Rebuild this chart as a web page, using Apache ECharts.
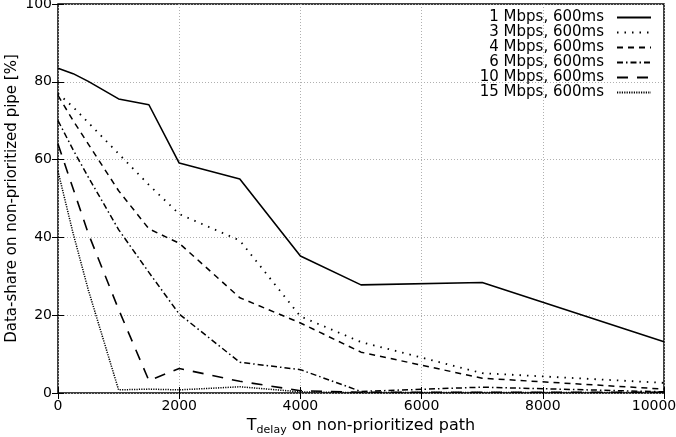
<!DOCTYPE html>
<html>
<head>
<meta charset="utf-8">
<script src="https://cdn.jsdelivr.net/npm/echarts@6/dist/echarts.min.js"></script>
<style>
  html, body { margin: 0; padding: 0; background: #fff; }
  #chart { width: 676px; height: 437px; }
</style>
</head>
<body>
<div id="chart"></div>
<script>
// delay values (x axis)
const delays = [0, 250, 500, 1000, 1500, 2000, 3000, 4000, 5000, 7000, 10000];

// data share [%] per bandwidth
const share1 = [83.5, 82.1, 80.1, 75.6, 74.1, 59.1, 55.0, 35.2, 27.8, 28.4, 13.2];
const share3 = [77.0, 73.5, 69.5, 61.5, 53.5, 46.0, 39.2, 19.7, 13.1, 5.1, 2.6];
const share4 = [76.5, 70.0, 64.0, 52.0, 42.2, 38.5, 24.5, 18.0, 10.5, 3.8, 1.0];
const share6 = [70.0, 62.5, 55.5, 42.0, 31.0, 20.3, 7.9, 6.0, 0.4, 1.5, 0.3];
const share10 = [64.0, 52.5, 41.0, 21.5, 3.2, 6.3, 3.0, 0.6, 0.2, 0.2, 0.2];
const share15 = [57.0, 41.0, 26.5, 0.8, 1.0, 0.8, 1.6, 0.3, 0.1, 0.1, 0.1];

const seriesNames = ['1 Mbps, 600ms', '3 Mbps, 600ms', '4 Mbps, 600ms',
                     '6 Mbps, 600ms', '10 Mbps, 600ms', '15 Mbps, 600ms'];
const seriesValues = [share1, share3, share4, share6, share10, share15];

// line looks (gnuplot style dash patterns)
const lineLooks = [
    { type: 'solid', width: 1.6 },
    { type: [1.5, 6], width: 1.8 },
    { type: [6, 5], width: 1.5 },
    { type: [6, 3, 1.5, 3], width: 1.5 },
    { type: [11, 9], width: 1.6 },
    { type: [1.2, 1.2], width: 1.5 }
];

const font = 'DejaVu Sans';

const chart = echarts.init(document.getElementById('chart'));

const series = seriesNames.map((name, i) => ({
    name: name,
    type: 'line',
    data: delays.map((d, j) => [d, seriesValues[i][j]]),
    symbol: 'none',
    lineStyle: { color: '#000', type: lineLooks[i].type, width: lineLooks[i].width, cap: 'butt' },
    itemStyle: { color: '#000' },
    animation: false
}));

const gridLine = { show: true, lineStyle: { color: '#b0b0b0', type: [1, 2], width: 1 } };

chart.setOption({
    backgroundColor: '#fff',
    animation: false,
    grid: {
        left: 58, right: 12, top: 4, bottom: 44,
        outerBoundsMode: 'none', containLabel: false,
        show: true, borderColor: '#000', borderWidth: 1.5
    },
    legend: {
        data: seriesNames,
        orient: 'vertical',
        right: 19,
        top: 5,
        align: 'right',
        itemWidth: 34,
        itemHeight: 10,
        itemGap: 0,
        itemStyle: { opacity: 0 },
        textStyle: { fontFamily: font, fontSize: 15, lineHeight: 14, color: '#000', padding: [0, 8, 0, 0] }
    },
    xAxis: [{
        type: 'value',
        min: 0, max: 10000, interval: 2000,
        name: '{t|T}{s|delay}{t| on non-prioritized path}',
        nameLocation: 'middle',
        nameGap: 22,
        nameTextStyle: {
            rich: {
                t: { fontFamily: font, fontSize: 16, color: '#000' },
                s: { fontFamily: font, fontSize: 11, color: '#000', verticalAlign: 'bottom', padding: [8, 0, 0, 0] }
            }
        },
        axisLine: { show: false },
        axisTick: { show: true, inside: true, length: 6, lineStyle: { color: '#000' } },
        axisLabel: {
            fontFamily: font, fontSize: 14, color: '#000', margin: 6,
            formatter: v => v === 10000 ? '{last|10000}' : String(v),
            rich: { last: { fontFamily: font, fontSize: 14, color: '#000', padding: [0, 20, 0, 0] } }
        },
        splitLine: gridLine
    }, {
        type: 'value', position: 'top',
        min: 0, max: 10000, interval: 2000,
        axisLine: { show: false },
        axisTick: { show: true, inside: true, length: 6, lineStyle: { color: '#000' } },
        axisLabel: { show: false },
        splitLine: { show: false }
    }],
    yAxis: [{
        type: 'value',
        min: 0, max: 100, interval: 20,
        name: 'Data-share on non-prioritized pipe [%]',
        nameLocation: 'middle',
        nameGap: 38,
        nameMoveOverlap: false,
        nameTextStyle: { fontFamily: font, fontSize: 15, color: '#000' },
        axisLine: { show: false },
        axisTick: { show: true, inside: true, length: 6, lineStyle: { color: '#000' } },
        axisLabel: { fontFamily: font, fontSize: 14, color: '#000', margin: 6 },
        splitLine: gridLine
    }, {
        type: 'value', position: 'right',
        min: 0, max: 100, interval: 20,
        axisLine: { show: false },
        axisTick: { show: true, inside: true, length: 6, lineStyle: { color: '#000' } },
        axisLabel: { show: false },
        splitLine: { show: false }
    }],
    series: series
});
</script>
</body>
</html>
